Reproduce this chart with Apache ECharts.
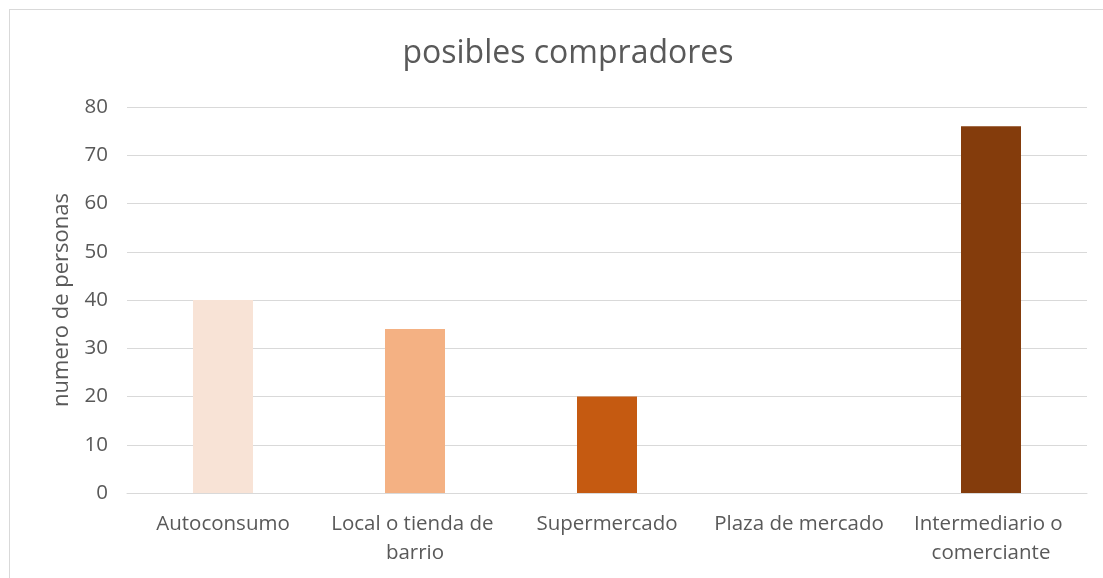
<!DOCTYPE html>
<html>
<head>
<meta charset="utf-8">
<script src="https://cdn.jsdelivr.net/npm/echarts@6/dist/echarts.min.js"></script>
<style>
html,body{margin:0;padding:0;background:#fff;}
#frame{position:absolute;left:9px;top:9px;width:1110px;height:590px;border:1px solid #D9D9D9;box-sizing:border-box;}
#chart{position:absolute;left:0;top:0;width:1103px;height:578px;}
</style>
</head>
<body>
<div id="frame"></div>
<div id="chart"></div>
<script>
const categories = ["Autoconsumo", "Local o tienda de barrio", "Supermercado", "Plaza de mercado", "Intermediario o comerciante"];
const values = [40, 34, 20, 0, 76];
const barColors = ["#F8E3D6", "#F4B183", "#C55A11", "#A04A10", "#843C0C"];
const yTicks = [0, 10, 20, 30, 40, 50, 60, 70, 80];
const titleText = "posibles compradores";
const yName = "numero de personas";

const chart = echarts.init(document.getElementById('chart'), null, {renderer: 'canvas'});
const font = "'Open Sans', 'Noto Sans', sans-serif";
chart.setOption({
  animation: false,
  title: {
    text: titleText,
    left: 563, top: 33,
    textAlign: 'center',
    textStyle: {fontFamily: font, fontSize: 32, fontWeight: 'normal', color: '#595959'}
  },
  grid: {left: 127, right: 16, top: 107, bottom: 85},
  xAxis: {
    type: 'category',
    data: categories,
    axisLine: {lineStyle: {color: '#D9D9D9', width: 1}},
    axisTick: {show: false},
    axisLabel: {
      interval: 0, margin: 17, color: '#595959', fontFamily: font, fontSize: 20.5,
      width: 186, overflow: 'break', lineHeight: 29
    }
  },
  yAxis: {
    type: 'value',
    min: yTicks[0], max: yTicks[yTicks.length - 1], interval: 10,
    name: yName, nameLocation: 'middle', nameGap: 54, nameRotate: 90,
    nameTextStyle: {fontFamily: font, fontSize: 22, color: '#595959'},
    axisLine: {show: false},
    axisTick: {show: false},
    splitLine: {lineStyle: {color: '#D9D9D9', width: 1}},
    axisLabel: {margin: 19, color: '#595959', fontFamily: font, fontSize: 20.5}
  },
  series: [{
    type: 'bar',
    data: values.map((v, i) => ({value: v, itemStyle: {color: barColors[i]}})),
    barWidth: 60
  }]
});
</script>
</body>
</html>
